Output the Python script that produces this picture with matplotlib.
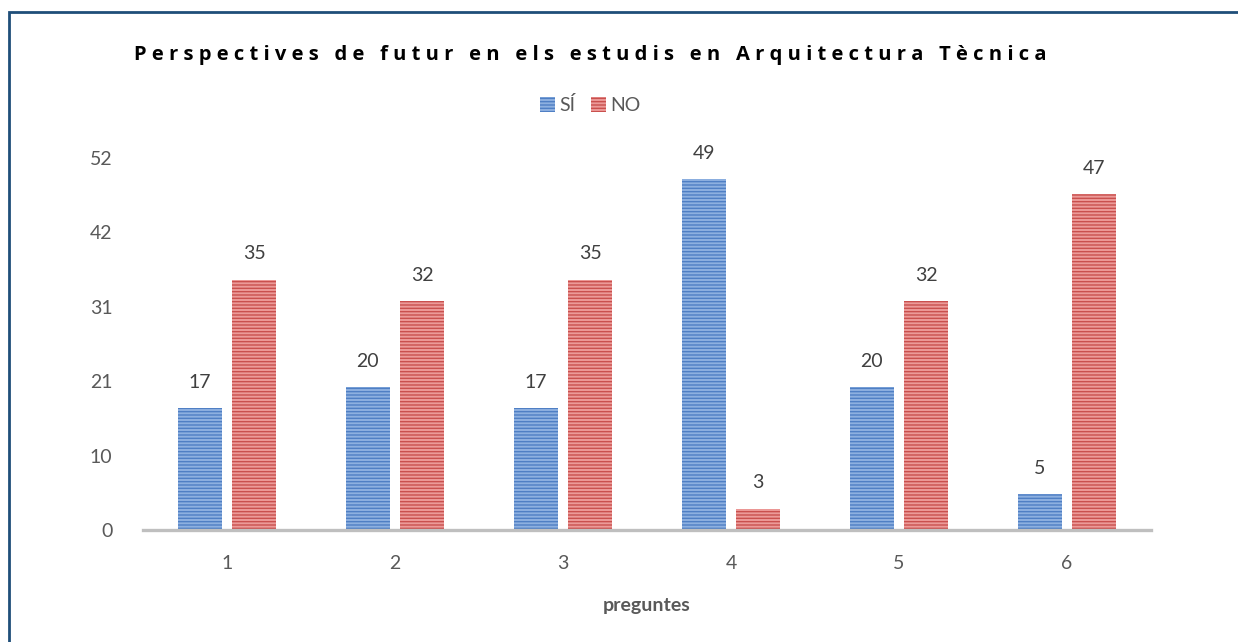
import matplotlib.pyplot as plt
import numpy as np
from matplotlib.patches import Rectangle

# chart data
preguntes = [1, 2, 3, 4, 5, 6]
si = [17, 20, 17, 49, 20, 5]
no = [35, 32, 35, 3, 32, 47]
ytick_vals = [0, 10.4, 20.8, 31.2, 41.6, 52]
ytick_labels = ['0', '10', '21', '31', '42', '52']

title = 'Perspectives de futur en els estudis en Arquitectura Tècnica'

plt.rcParams['font.family'] = ['Lato', 'DejaVu Sans']
plt.rcParams['hatch.linewidth'] = 1.0

fig = plt.figure(figsize=(12.38, 6.42), dpi=100)
ax = fig.add_axes([143 / 1238, 1 - 530 / 642, (1151 - 143) / 1238,
                   (530 - 158) / 642])

x = np.array(preguntes)
w = 0.262
off = 0.03 + w / 2
b1 = ax.bar(x - off, si, w, color='#8db0e0', edgecolor='#4f7fc4',
            hatch='-----', linewidth=0, label='SÍ')
b2 = ax.bar(x + off, no, w, color='#ec9a98', edgecolor='#c9504e',
            hatch='-----', linewidth=0, label='NO')

for bars, vals in ((b1, si), (b2, no)):
    for rect, v in zip(bars, vals):
        ax.annotate(str(v), (rect.get_x() + rect.get_width() / 2, v),
                    xytext=(0, 18.5), textcoords='offset points',
                    ha='center', va='center', fontsize=14, color='#404040')

ax.set_xlim(0.5, 6.5)
ax.set_ylim(0, 52)
ax.set_yticks(ytick_vals)
ax.set_yticklabels(ytick_labels)
ax.set_xticks(x)
ax.tick_params(length=0, labelsize=14, labelcolor='#595959')
ax.tick_params(axis='x', pad=18)
ax.tick_params(axis='y', pad=22)
for s in ('top', 'right', 'left'):
    ax.spines[s].set_visible(False)
ax.spines['bottom'].set_color('#bfbfbf')
ax.spines['bottom'].set_linewidth(2.4)

ax.set_xlabel('preguntes', fontsize=14, fontweight='bold', color='#595959',
              labelpad=18)

spaced = '   '.join(' '.join(word) for word in title.split(' '))
fig.text(590 / 1238, 1 - 55 / 642, spaced, ha='center', va='center',
         fontsize=14.5, fontweight='bold', color='#000000',
         family=['Open Sans', 'DejaVu Sans'])

fig.legend(handles=[b1, b2], loc='center', bbox_to_anchor=(590 / 1238, 1 - 105 / 642),
           ncol=2, frameon=False, fontsize=14, handlelength=0.8,
           handleheight=0.8, handletextpad=0.2, columnspacing=0.8,
           labelcolor='#595959')

fig.patches.append(Rectangle((9 / 1238, -0.1), 1.2, 1 - 12 / 642 + 0.1,
                             transform=fig.transFigure, fill=False,
                             edgecolor='#1f4e79', linewidth=2))

fig.savefig('out.png', dpi=100)
